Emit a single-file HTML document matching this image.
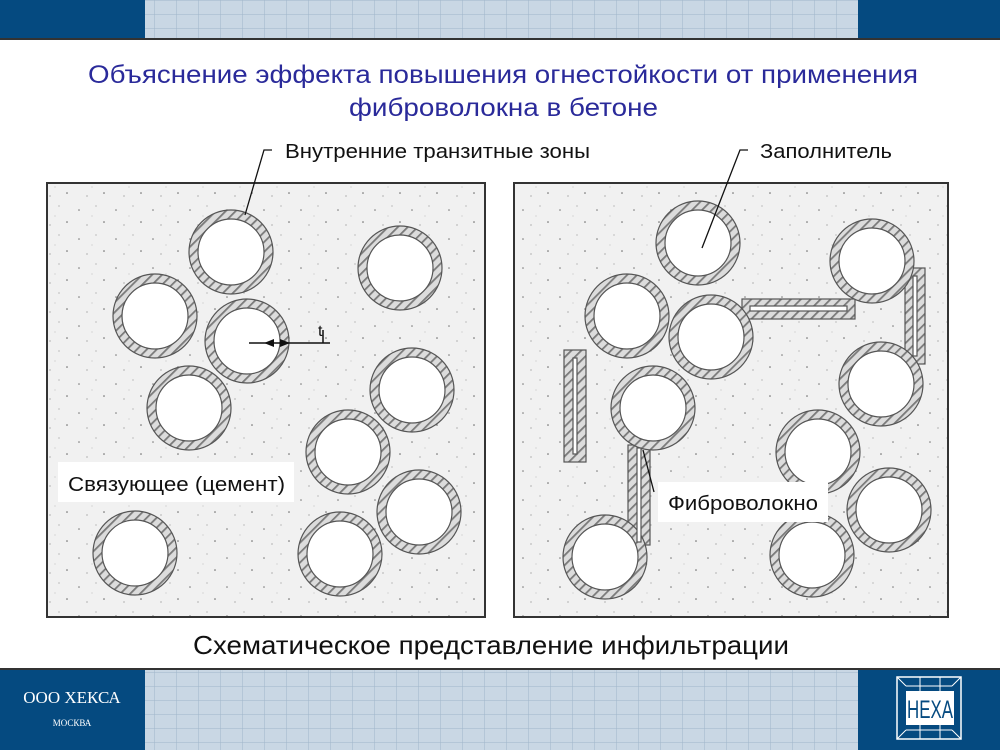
<!DOCTYPE html>
<html><head><meta charset="utf-8"><style>
body{margin:0;width:1000px;height:750px;overflow:hidden;background:#fff;font-family:"Liberation Sans",sans-serif;}
</style></head><body>
<svg width="1000" height="750" viewBox="0 0 1000 750" xmlns="http://www.w3.org/2000/svg" font-family="Liberation Sans, sans-serif">
<defs>
<pattern id="h" width="7" height="7" patternUnits="userSpaceOnUse" patternTransform="rotate(45)">
<rect width="7" height="7" fill="#dcdcdc"/><rect width="1.8" height="7" fill="#7a7a7a"/></pattern>
<pattern id="mesh" width="22" height="14" patternUnits="userSpaceOnUse">
<rect width="22" height="14" fill="#c9d7e4"/><path d="M0 0H22M0 0V14" stroke="#9fb5ca" stroke-width="1"/></pattern>
<pattern id="dots" width="37" height="29" patternUnits="userSpaceOnUse">
<rect width="37" height="29" fill="#f1f1f1"/><circle cx="5" cy="7" r=".8" fill="#777"/><circle cx="22" cy="3" r=".6" fill="#999"/><circle cx="30" cy="19" r=".8" fill="#666"/><circle cx="13" cy="22" r=".6" fill="#888"/><circle cx="18" cy="13" r=".5" fill="#aaa"/></pattern>
</defs>
<rect x="0" y="0" width="1000" height="40" fill="#054a80"/>
<rect x="145" y="0" width="713" height="38" fill="url(#mesh)"/>
<rect x="0" y="38" width="1000" height="2" fill="#333"/>
<rect x="0" y="668" width="1000" height="82" fill="#054a80"/>
<rect x="145" y="670" width="713" height="80" fill="url(#mesh)"/>
<rect x="0" y="668" width="1000" height="2" fill="#333"/>
<text x="72" y="703" font-family="Liberation Serif, serif" font-size="17" fill="#fff" text-anchor="middle">ООО ХЕКСА</text>
<text x="72" y="726" font-family="Liberation Serif, serif" font-size="9" fill="#fff" text-anchor="middle">МОСКВА</text>
<rect x="897" y="677" width="64" height="62" fill="#054a80" stroke="#fff" stroke-width="1.5"/>
<rect x="906" y="691" width="48" height="34" fill="#fff"/>
<path d="M897 677L906 686M961 677L952 686M897 739L906 730M961 739L952 730M906 686H952M906 730H952M920 677V691M940 677V691M920 725V739M940 725V739" stroke="#fff"/>
<text x="930" y="718" font-size="25" fill="#054a80" text-anchor="middle" textLength="46" lengthAdjust="spacingAndGlyphs">HEXA</text>
<text x="88" y="83" font-size="25" fill="#2a2a9a" textLength="830" lengthAdjust="spacingAndGlyphs">Объяснение эффекта повышения огнестойкости от применения</text>
<text x="349" y="116" font-size="25" fill="#2a2a9a" textLength="309" lengthAdjust="spacingAndGlyphs">фиброволокна в бетоне</text>
<rect x="47" y="183" width="438" height="434" fill="url(#dots)" stroke="#333" stroke-width="2"/>
<rect x="514" y="183" width="434" height="434" fill="url(#dots)" stroke="#333" stroke-width="2"/>
<g stroke="#555" stroke-width="1.2">
<rect x="564" y="350" width="22" height="112" fill="url(#h)"/>
<rect x="742" y="299" width="113" height="20" fill="url(#h)"/>
<rect x="905" y="268" width="20" height="96" fill="url(#h)"/>
<rect x="628" y="445" width="22" height="100" fill="url(#h)"/>
<g fill="url(#h)">
<circle cx="231" cy="252" r="42"/><circle cx="400" cy="268" r="42"/><circle cx="155" cy="316" r="42"/><circle cx="247" cy="341" r="42"/><circle cx="189" cy="408" r="42"/><circle cx="412" cy="390" r="42"/><circle cx="348" cy="452" r="42"/><circle cx="419" cy="512" r="42"/><circle cx="135" cy="553" r="42"/><circle cx="340" cy="554" r="42"/>
<circle cx="698" cy="243" r="42"/><circle cx="872" cy="261" r="42"/><circle cx="627" cy="316" r="42"/><circle cx="711" cy="337" r="42"/><circle cx="653" cy="408" r="42"/><circle cx="881" cy="384" r="42"/><circle cx="818" cy="452" r="42"/><circle cx="889" cy="510" r="42"/><circle cx="605" cy="557" r="42"/><circle cx="812" cy="555" r="42"/>
</g>
<g fill="#fff">
<circle cx="231" cy="252" r="33"/><circle cx="400" cy="268" r="33"/><circle cx="155" cy="316" r="33"/><circle cx="247" cy="341" r="33"/><circle cx="189" cy="408" r="33"/><circle cx="412" cy="390" r="33"/><circle cx="348" cy="452" r="33"/><circle cx="419" cy="512" r="33"/><circle cx="135" cy="553" r="33"/><circle cx="340" cy="554" r="33"/>
<circle cx="698" cy="243" r="33"/><circle cx="872" cy="261" r="33"/><circle cx="627" cy="316" r="33"/><circle cx="711" cy="337" r="33"/><circle cx="653" cy="408" r="33"/><circle cx="881" cy="384" r="33"/><circle cx="818" cy="452" r="33"/><circle cx="889" cy="510" r="33"/><circle cx="605" cy="557" r="33"/><circle cx="812" cy="555" r="33"/>
<rect x="573" y="358" width="4" height="96"/><rect x="750" y="306" width="97" height="5"/><rect x="913" y="276" width="4" height="80"/><rect x="637" y="448" width="4" height="94"/>
</g>
</g>
<path d="M249 343H330M323 343V330" stroke="#111" stroke-width="1.5" fill="none"/>
<path d="M264 343l10-4v8z M290 343l-10-4v8z" fill="#111"/>
<text x="318" y="336" font-size="16" fill="#111">t</text>
<path d="M272 150H264L245 215" stroke="#111" stroke-width="1.3" fill="none"/>
<path d="M748 150H740L702 248" stroke="#111" stroke-width="1.3" fill="none"/>
<path d="M643 450L654 492" stroke="#111" stroke-width="1.3" fill="none"/>
<text x="285" y="158" font-size="20" fill="#111" textLength="305" lengthAdjust="spacingAndGlyphs">Внутренние транзитные зоны</text>
<text x="760" y="158" font-size="20" fill="#111" textLength="132" lengthAdjust="spacingAndGlyphs">Заполнитель</text>
<rect x="58" y="462" width="236" height="40" fill="#fff"/>
<text x="68" y="491" font-size="20" fill="#111" textLength="217" lengthAdjust="spacingAndGlyphs">Связующее (цемент)</text>
<rect x="658" y="482" width="170" height="40" fill="#fff"/>
<text x="668" y="510" font-size="20" fill="#111" textLength="150" lengthAdjust="spacingAndGlyphs">Фиброволокно</text>
<text x="193" y="654" font-size="26" fill="#111" textLength="596" lengthAdjust="spacingAndGlyphs">Схематическое представление инфильтрации</text>
</svg>
</body></html>
